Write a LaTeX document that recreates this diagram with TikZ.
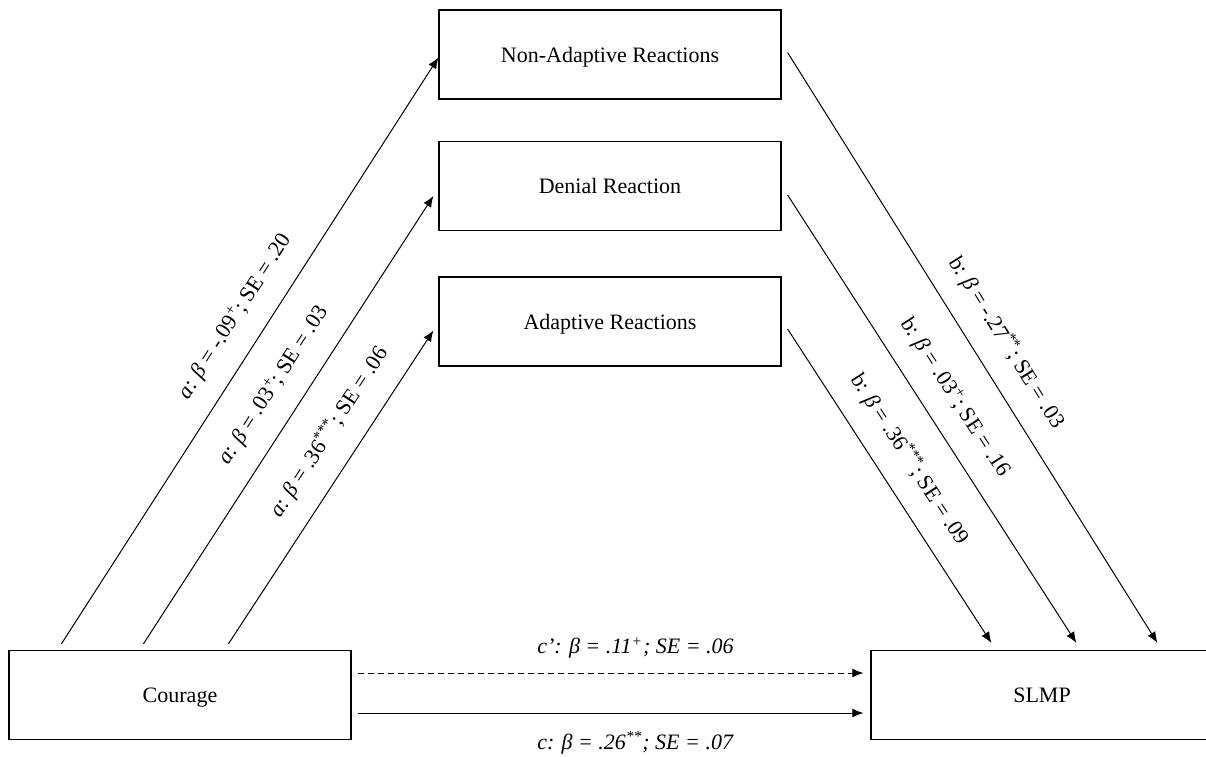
\documentclass[tikz,border=0pt]{standalone}
\usepackage{fontspec}
\setmainfont{Liberation Serif}
\usetikzlibrary{arrows.meta,calc}

\begin{document}
\begin{tikzpicture}[x=0.5pt, y=-0.5pt,
        box/.style={draw, line width=0.6pt, minimum width=171pt, minimum height=44.5pt, inner sep=0pt, text depth=0pt, font=\fontsize{11}{13}\selectfont},
        arr/.style={-{Latex[length=5.5pt,width=4.5pt]}, line width=0.5pt},
        lbl/.style={font=\fontsize{11}{13}\selectfont, inner sep=0pt}
    ]
        \useasboundingbox (0,0) rectangle (1206,756);
        \node[box] (nar)  at (610, 54.5)  {Non-Adaptive Reactions};
        \node[box] (den)  at (610, 186)   {Denial Reaction};
        \node[box] (adp)  at (610, 321.5) {Adaptive Reactions};
        \node[box] (cour) at (180, 695)   {Courage};
        \node[box] (slmp) at (1042, 695)  {SLMP};
        % a paths
        \draw[arr] ($(cour.north west)+(53,-6)$) -- node[lbl, sloped, pos=0.53, above=10pt] {\textit{a}: \textit{β} = -.09\textsuperscript{+}; SE = .20} ($(nar.west)+(0,3)$);
        \draw[arr] ($(cour.north west)+(135,-6)$) -- node[lbl, sloped, pos=0.54, above=10pt] {\textit{a}: \textit{β} = .03\textsuperscript{+}; SE = .03} ($(den.west)+(-5,10)$);
        \draw[arr] ($(cour.north west)+(220,-6)$) -- node[lbl, sloped, pos=0.62, above=10pt] {\textit{a}: \textit{β} = .36\textsuperscript{***}; SE = .06} ($(adp.west)+(-5,9)$);
        % b paths
        \draw[arr] ($(nar.east)+(6,-2)$) -- node[lbl, sloped, pos=0.52, above=10pt] {b: \textit{β} = -.27\textsuperscript{**}; SE = .03} ($(slmp.north west)+(287,-7)$);
        \draw[arr] ($(den.east)+(6,9)$) -- node[lbl, sloped, pos=0.49, above=10pt] {b: \textit{β} = .03\textsuperscript{+}; SE = .16} ($(slmp.north west)+(206,-7)$);
        \draw[arr] ($(adp.east)+(6,7.5)$) -- node[lbl, sloped, pos=0.47, above=10pt] {b: \textit{β} = .36\textsuperscript{***}; SE = .09} ($(slmp.north west)+(121,-7)$);
        % c paths
        \draw[arr, dash pattern=on 3pt off 2pt] ($(cour.east)+(6,-22)$) -- node[lbl, midway, xshift=12.5pt, yshift=12.5pt] {\textit{c’: β = .11\textsuperscript{+}; SE = .06}} ($(slmp.west)+(-7,-22)$);
        \draw[arr] ($(cour.east)+(6,18)$) -- node[lbl, midway, xshift=12.5pt, yshift=-15pt] {\textit{c: β = .26\textsuperscript{**}; SE = .07}} ($(slmp.west)+(-7,18)$);
    \end{tikzpicture}
\end{document}
